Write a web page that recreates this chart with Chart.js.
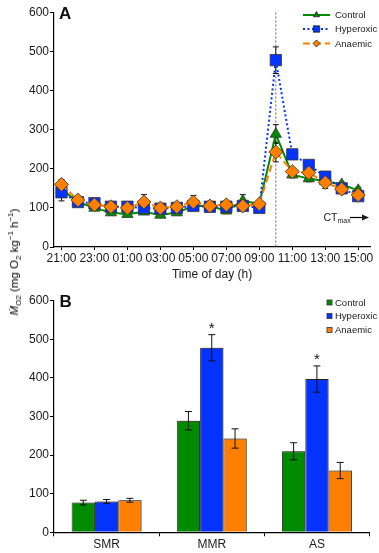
<!DOCTYPE html>
<html><head><meta charset="utf-8">
<script src="https://cdn.jsdelivr.net/npm/chart.js@4"></script>
<style>
html,body{margin:0;padding:0;background:#fff;}
#wrap{position:relative;width:379px;height:553px;overflow:hidden;font-family:"Liberation Sans",Arial,sans-serif;}
#ca{position:absolute;left:0;top:0;}
#cb{position:absolute;left:0;top:282px;}
#ytitle{position:absolute;left:14px;top:262px;transform:translate(-50%,-50%) rotate(-90deg);white-space:nowrap;font-size:11.5px;font-weight:normal;color:#000;line-height:14px;}
#ytitle sub,#ytitle sup{font-size:8px;line-height:0;}
</style></head>
<body><div id="wrap">
<canvas id="ca" width="379" height="282"></canvas>
<canvas id="cb" width="379" height="271"></canvas>
<div id="ytitle"><i>Ṁ</i><sub>O2</sub> (mg O<sub>2</sub> kg<sup>−1</sup> h<sup>−1</sup>)</div>
</div>
<script>
// ---------- data ----------
const hours = ['21:00','22:00','23:00','00:00','01:00','02:00','03:00','04:00','05:00','06:00','07:00','08:00','09:00','10:00','11:00','12:00','13:00','14:00','15:00'];
const control      = [148,115,100,88,84,90,82,88,105,105,93,118,110,289,185,175,168,160,145];
const hyperoxic    = [140,115,112,103,103,100,98,100,105,103,103,105,100,478,237,210,180,150,130];
const anaemic      = [160,120,108,103,100,115,100,103,115,105,108,105,110,243,193,190,165,148,133];
const controlErr   = [8,6,6,6,6,6,6,6,8,8,8,16,8,24,8,8,8,6,8];
const hyperoxicErr = [22,8,8,6,6,6,6,6,8,6,6,8,6,34,8,8,8,8,8];
const anaemicErr   = [13,8,6,6,6,19,6,6,17,8,8,8,6,25,8,8,15,8,8];
const ctMaxHour = '10:00';

const metrics      = ['SMR','MMR','AS'];
const barControl   = [77,289,210];
const barHyperoxic = [80,478,397];
const barAnaemic   = [83,243,160];
const barControlErr   = [6,24,22];
const barHyperoxicErr = [5,34,34];
const barAnaemicErr   = [5,25,21];
const significant  = ['MMR','AS']; // hyperoxic marked *

const yTicks = [0,100,200,300,400,500,600];
const seriesNames = ['Control','Hyperoxic','Anaemic'];

// ---------- style ----------
const GREEN = '#008a00', BLUE = '#0433ff', ORANGE = '#ff8000';
const FONT = '"Liberation Sans", Arial, sans-serif';
Chart.defaults.font.family = FONT;
Chart.defaults.color = '#1a1a1a';

function drawErr(ctx, px, yTop, yBot, cap){
  ctx.beginPath();
  ctx.moveTo(px, yTop); ctx.lineTo(px, yBot);
  ctx.moveTo(px-cap, yTop); ctx.lineTo(px+cap, yTop);
  ctx.moveTo(px-cap, yBot); ctx.lineTo(px+cap, yBot);
  ctx.stroke();
}

const pluginA = {
  id:'pluginA',
  beforeDatasetsDraw(chart){
    const {ctx, chartArea, scales:{x,y}} = chart;
    ctx.save();
    const vx = x.getPixelForValue(hours.indexOf(ctMaxHour));
    ctx.strokeStyle = '#666'; ctx.lineWidth = 1; ctx.setLineDash([2,2]);
    ctx.beginPath(); ctx.moveTo(vx, chartArea.top); ctx.lineTo(vx, chartArea.bottom); ctx.stroke();
    ctx.setLineDash([]);
    ctx.strokeStyle = '#111'; ctx.lineWidth = 1;
    chart.data.datasets.forEach(ds=>{
      ds.errors.forEach((e,i)=>{
        const v = ds.data[i].y, px = x.getPixelForValue(i);
        drawErr(ctx, px, y.getPixelForValue(v+e), y.getPixelForValue(v-e), 3);
      });
    });
    ctx.restore();
  },
  afterDraw(chart){
    const {ctx} = chart;
    ctx.save();
    ctx.fillStyle = '#111'; ctx.font = 'bold 17px ' + FONT; ctx.textBaseline = 'alphabetic'; ctx.textAlign = 'left';
    ctx.fillText('A', 59, 19);
    const ds = chart.data.datasets;
    const rows = [15, 29, 43.5];
    ds.forEach((d,i)=>{
      const yy = rows[i];
      ctx.strokeStyle = d.borderColor; ctx.lineWidth = 2; ctx.setLineDash(d.borderDash || []);
      ctx.beginPath(); ctx.moveTo(303, yy); ctx.lineTo(330, yy); ctx.stroke();
      ctx.setLineDash([]);
      ctx.fillStyle = d.pointBackgroundColor; ctx.strokeStyle = '#222'; ctx.lineWidth = 0.8;
      Chart.helpers.drawPoint(ctx, {pointStyle:d.pointStyle, radius: d.pointStyle==='rect'?4.5:3.5, borderWidth:0.8}, 316.5, yy);
      ctx.fillStyle = '#1a1a1a'; ctx.font = '9.5px ' + FONT; ctx.textBaseline = 'middle';
      ctx.fillText(d.label, 335, yy + 0.5);
    });
    ctx.fillStyle = '#1a1a1a'; ctx.textBaseline = 'alphabetic';
    ctx.font = '10.5px ' + FONT; ctx.fillText('CT', 323.5, 220.5);
    const w = ctx.measureText('CT').width;
    ctx.font = '7px ' + FONT; ctx.fillText('max', 323.5 + w, 223);
    ctx.strokeStyle = '#000'; ctx.lineWidth = 1.2;
    ctx.beginPath(); ctx.moveTo(350, 217.5); ctx.lineTo(364, 217.5); ctx.stroke();
    ctx.beginPath(); ctx.moveTo(369, 217.5); ctx.lineTo(362, 214.5); ctx.lineTo(362, 220.5); ctx.closePath(); ctx.fill();
    ctx.restore();
  }
};

function lineDs(label, vals, errs, color, style, radius, dash, order){
  return {label, data: vals.map((v,i)=>({x:i, y:v})), errors: errs,
    borderColor: color, backgroundColor: color, borderWidth: 2, borderDash: dash,
    pointStyle: style, pointRadius: radius, pointBackgroundColor: color,
    pointBorderColor: '#333', pointBorderWidth: 0.8, tension: 0, order};
}

const axisBorder = {display:true, color:'#000', width:1.2};

new Chart(document.getElementById('ca'), {
  type:'line',
  data:{datasets:[
    lineDs(seriesNames[0], control, controlErr, GREEN, 'triangle', 6.5, [], 3),
    lineDs(seriesNames[1], hyperoxic, hyperoxicErr, BLUE, 'rect', 8, [2,2.5], 2),
    lineDs(seriesNames[2], anaemic, anaemicErr, ORANGE, 'rectRot', 7, [7,4], 1)
  ]},
  options:{
    responsive:false, animation:false, devicePixelRatio:1,
    layout:{padding:{left:0, right:8, top:12.5, bottom:0}},
    plugins:{legend:{display:false}, tooltip:{enabled:false}},
    scales:{
      x:{type:'linear', min:-0.454, max:18.726,
        afterBuildTicks: s=>{ s.ticks = hours.map((h,i)=>i).filter(i=>i%2===0).map(v=>({value:v})); },
        ticks:{callback:v=>hours[v], font:{size:12}, padding:1, maxRotation:0, autoSkip:false},
        grid:{drawOnChartArea:false, drawTicks:true, tickLength:3, color:'#000'},
        border:axisBorder,
        title:{display:true, text:'Time of day (h)', font:{size:12}, padding:{top:0,bottom:0}},
        afterFit: s=>{ s.height = 35; }
      },
      y:{min:0, max:600,
        afterBuildTicks: s=>{ s.ticks = yTicks.map(v=>({value:v})); },
        ticks:{font:{size:12}, padding:1},
        grid:{drawOnChartArea:false, tickLength:4, color:'#000'},
        border:axisBorder,
        afterFit: s=>{ s.width = 54; }
      }
    }
  },
  plugins:[pluginA]
});

const pluginB = {
  id:'pluginB',
  beforeDatasetsDraw(chart){
    const ctx = chart.ctx;
    ctx.save();
    ctx.shadowColor = 'rgba(0,0,0,0.28)'; ctx.shadowOffsetX = 2; ctx.shadowOffsetY = -1; ctx.shadowBlur = 0.5;
  },
  afterDatasetsDraw(chart){
    const {ctx, scales:{y}} = chart;
    ctx.restore();
    ctx.save();
    ctx.strokeStyle = '#111'; ctx.lineWidth = 1;
    chart.data.datasets.forEach((ds,di)=>{
      const meta = chart.getDatasetMeta(di);
      meta.data.forEach((bar,i)=>{
        const v = ds.data[i], e = ds.errors[i];
        drawErr(ctx, bar.x, y.getPixelForValue(v+e), y.getPixelForValue(v-e), 3.5);
        if (ds.label === seriesNames[1] && significant.includes(metrics[i])) {
          ctx.fillStyle = '#111'; ctx.font = '15px ' + FONT; ctx.textAlign = 'center'; ctx.textBaseline = 'alphabetic';
          ctx.fillText('*', bar.x, y.getPixelForValue(v+e) - 1.5);
        }
      });
    });
    ctx.restore();
  },
  afterDraw(chart){
    const ctx = chart.ctx;
    ctx.save();
    ctx.fillStyle = '#111'; ctx.font = 'bold 17px ' + FONT; ctx.textBaseline = 'alphabetic'; ctx.textAlign = 'left';
    ctx.fillText('B', 59.5, 25);
    const rows = [20.5, 34, 48];
    chart.data.datasets.forEach((d,i)=>{
      const yy = rows[i];
      ctx.fillStyle = d.backgroundColor; ctx.fillRect(327, yy-2.5, 5, 5);
      ctx.strokeStyle = '#333'; ctx.lineWidth = 0.8; ctx.strokeRect(327, yy-2.5, 5, 5);
      ctx.fillStyle = '#1a1a1a'; ctx.font = '9.5px ' + FONT; ctx.textBaseline = 'middle';
      ctx.fillText(d.label, 335, yy + 0.5);
    });
    ctx.restore();
  }
};

function barDs(label, vals, errs, color){
  return {label, data: vals, errors: errs, backgroundColor: color, borderColor:'#333', borderWidth:1};
}

new Chart(document.getElementById('cb'), {
  type:'bar',
  data:{labels: metrics, datasets:[
    barDs(seriesNames[0], barControl, barControlErr, GREEN),
    barDs(seriesNames[1], barHyperoxic, barHyperoxicErr, BLUE),
    barDs(seriesNames[2], barAnaemic, barAnaemicErr, ORANGE)
  ]},
  options:{
    responsive:false, animation:false, devicePixelRatio:1,
    layout:{padding:{left:0, right:9.5, top:18.7, bottom:0}},
    datasets:{bar:{categoryPercentage:0.665, barPercentage:1}},
    plugins:{legend:{display:false}, tooltip:{enabled:false}},
    scales:{
      x:{grid:{offset:true, drawOnChartArea:false, tickLength:4, color:'#000'},
        border:axisBorder,
        ticks:{font:{size:12}, padding:1},
        afterFit: s=>{ s.height = 20.7; }
      },
      y:{min:0, max:600,
        afterBuildTicks: s=>{ s.ticks = yTicks.map(v=>({value:v})); },
        ticks:{font:{size:12}, padding:1},
        grid:{drawOnChartArea:false, tickLength:4, color:'#000'},
        border:axisBorder,
        afterFit: s=>{ s.width = 54; }
      }
    }
  },
  plugins:[pluginB]
});
</script>
</body></html>
